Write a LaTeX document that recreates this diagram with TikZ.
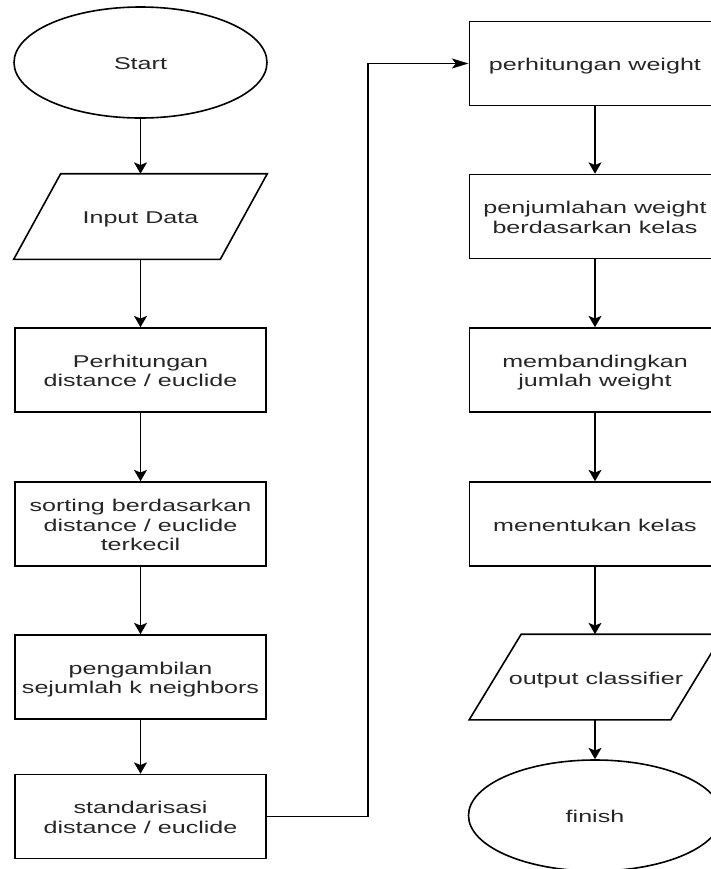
\documentclass[tikz,border=0pt]{standalone}
\usepackage{fontspec}
\setmainfont{Liberation Sans}
\usepackage{graphicx}
\usetikzlibrary{shapes.geometric,arrows.meta,calc}
\newcommand{\wtxt}[1]{\raisebox{-2.4pt}[\height][\depth]{\scalebox{1.47}[1]{\begin{tabular}{@{}c@{}}#1\end{tabular}}}}
\tikzset{
  base/.style={font=\fontsize{12.8}{14.5}\selectfont, text=black!85, inner sep=0pt, line width=1.2pt},
  procbox/.style={base, draw, rectangle, minimum width=188.5pt, minimum height=63pt},
  term/.style={base, draw, ellipse, minimum width=189.75pt, minimum height=83.25pt},
  io/.style={base, minimum width=189pt, minimum height=63pt},
  para/.style={line width=1.2pt, line join=miter},
  vconn/.style={line width=1.2pt, -{Stealth[length=8.5pt,width=9.75pt,inset=2pt]}},
  hconn/.style={line width=1.2pt, -{Stealth[length=12.5pt,width=7.5pt,inset=3pt]}},
}
\begin{document}
\begin{tikzpicture}[x=0.75pt,y=-0.75pt]
\useasboundingbox (0,0) rectangle (711,869);
\fill[white] (0,0) rectangle (711,869);
\clip (0,0) rectangle (711,869);
% left column
\node[term] (start) at (140.5,62.5) {\wtxt{Start}};
\node[io] (input) at (140.5,216.5) {\wtxt{Input Data}};
\draw[para] ($(input.north west)+(47,0)$) -- (input.north east) -- ($(input.south east)-(47,0)$) -- (input.south west) -- cycle;
\node[procbox] (hit) at (140.5,370) {\wtxt{Perhitungan\\distance / euclide}};
\node[procbox] (sort) at (140.5,524) {\wtxt{sorting berdasarkan\\distance / euclide\\terkecil}};
\node[procbox] (ambil) at (140.5,677) {\wtxt{pengambilan\\sejumlah k neighbors}};
\node[procbox] (std) at (140.5,816.5) {\wtxt{standarisasi\\distance / euclide}};
% right column
\node[procbox] (weight) at (595,63.5) {\wtxt{perhitungan weight}};
\node[procbox] (jumlah) at (595,216.5) {\wtxt{penjumlahan weight\\berdasarkan kelas}};
\node[procbox] (banding) at (595,370) {\wtxt{membandingkan\\jumlah weight}};
\node[procbox] (kelas) at (595,524) {\wtxt{menentukan kelas}};
\node[io] (out) at (596,677) {\wtxt{output classifier}};
\draw[para] ($(out.north west)+(52,0)$) -- (out.north east) -- ($(out.south east)-(52,0)$) -- (out.south west) -- cycle;
\node[term] (fin) at (595,815.5) {\wtxt{finish}};
% connectors
\draw[vconn] (start) -- (input);
\draw[vconn] (input.south) -- (hit);
\draw[vconn] (hit) -- (sort);
\draw[vconn] (sort) -- (ambil);
\draw[vconn] (ambil) -- (std);
\coordinate (c1) at (368,816.5);
\coordinate (c2) at (368,63.5);
\draw[hconn] (std.east) -- (c1) -- (c2) -- (weight.west);
\draw[vconn] (weight) -- (jumlah);
\draw[vconn] (jumlah) -- (banding);
\draw[vconn] (banding) -- (kelas);
\draw[vconn] (kelas.south) -- (kelas.south |- out.north);
\draw[vconn] (out.south -| kelas.south) -- (fin);
\end{tikzpicture}
\end{document}
